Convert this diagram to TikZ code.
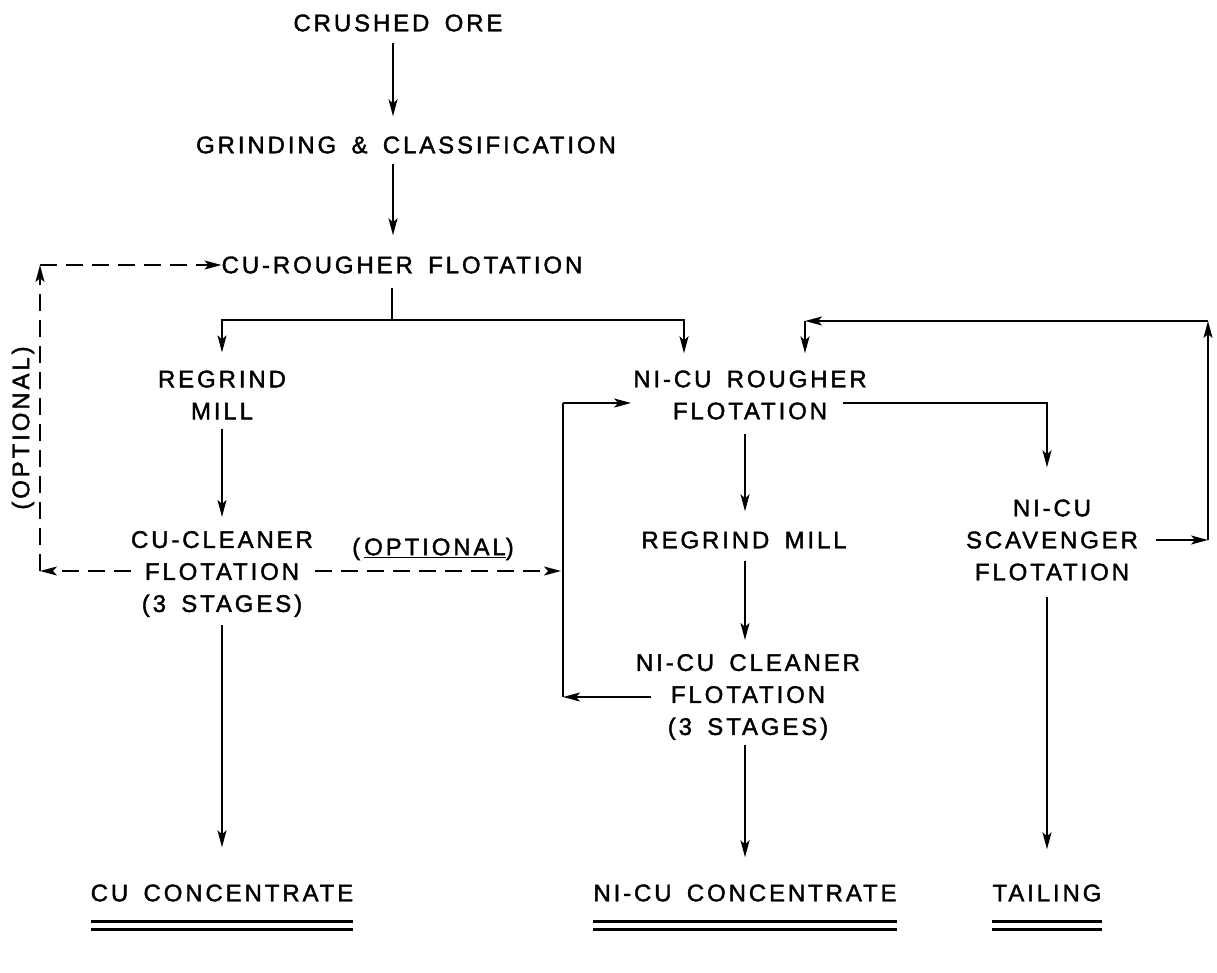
\documentclass[tikz,border=0pt]{standalone}
\usepackage{fontspec}
\setmainfont{Liberation Sans}[LetterSpace=12, WordSpace=1.6, FakeBold=1.6]
\usetikzlibrary{arrows.meta,calc}
\begin{document}
\begin{tikzpicture}[x=1pt,y=-1pt,
  lbl/.style={inner sep=0pt, align=center, font=\fontsize{24}{32}\selectfont},
  ln/.style={line width=1.7pt},
  arr/.style={ln, -{Stealth[length=17pt,width=9pt,inset=4pt]}},
  dsh/.style={dash pattern=on 17pt off 9pt},
  dbl/.style={line width=3pt}]
\useasboundingbox (0,0) rectangle (1217,972);

% labels
\node[lbl] (ore) at (398,23) {CRUSHED ORE};
\node[lbl] (grind) at (406,145) {GRINDING \& CLASSIFICATION};
\node[lbl] (curough) at (402,265) {CU-ROUGHER FLOTATION};
\node[lbl] (regrind) at (222,395) {REGRIND\\MILL};
\node[lbl] (cuclean) at (222,574) {CU-CLEANER\\FLOTATION\\(3 STAGES)};
\node[lbl] (nirough) at (750,395) {NI-CU ROUGHER\\FLOTATION};
\node[lbl] (niregrind) at (744,540) {REGRIND MILL};
\node[lbl] (niclean) at (748,697) {NI-CU CLEANER\\FLOTATION\\(3 STAGES)};
\node[lbl] (scav) at (1052,540) {NI-CU\\SCAVENGER\\FLOTATION};
\node[lbl] (cuconc) at (222,893) {CU CONCENTRATE};
\node[lbl] (niconc) at (745,893) {NI-CU CONCENTRATE};
\node[lbl] (tail) at (1047,893) {TAILING};
\node[lbl, rotate=90] (opt1) at (23,428) {(OPTIONAL)};
\node[lbl] (opt2) at (433,549) {(\,\underline{OPTIONAL})};

% helper coordinates
\coordinate (ax) at (393,0);
\coordinate (jn) at (392,320);
\coordinate (nx) at (684,0);
\coordinate (mx) at (745,0);
\coordinate (sx) at (1047,0);
\coordinate (cl) at (40,571);
\coordinate (tl) at (40,265);
\coordinate (ll) at (563,697);
\coordinate (lt) at (563,403);
\coordinate (ry) at (0,403);
\coordinate (rb) at (1208,540);
\coordinate (rt) at (1208,321);
\coordinate (rn) at (805,321);

% main flow
\draw[arr, shorten <=11pt, shorten >=20pt] (ore.south -| ax) -- (grind.north -| ax);
\draw[arr, shorten <=10pt, shorten >=21pt] (grind.south -| ax) -- (curough.north -| ax);
\draw[ln, shorten <=14pt] (curough.south -| jn) -- (jn);
\draw[arr, shorten >=18pt] (jn) -| (regrind.north);
\draw[arr, shorten >=17pt] (jn) -| (nirough.north -| nx);

% Cu branch
\draw[arr, shorten <=9pt, shorten >=14pt] (regrind.south) -- (cuclean.north);
\draw[arr, shorten <=8pt, shorten >=37pt] (cuclean.south) -- (cuconc.north);

% Ni-Cu branch
\draw[arr, shorten <=14pt, shorten >=20pt] (nirough.south -| mx) -- (niregrind.north -| mx);
\draw[arr, shorten <=12pt, shorten >=14pt] (niregrind.south -| mx) -- (niclean.north -| mx);
\draw[arr, shorten <=5pt, shorten >=27pt] (niclean.south -| mx) -- (niconc.north -| mx);
\draw[arr, shorten >=32pt] ($(nirough.east |- ry)+(-24,0)$) -| (scav.north -| sx);
\draw[arr, shorten <=16pt, shorten >=35pt] (scav.south -| sx) -- (tail.north -| sx);

% scavenger recycle
\draw[arr, shorten <=18pt] (scav.east) -- (rb);
\draw[arr] (rb) -- (rt);
\draw[arr] (rt) -- (rn);
\draw[arr, shorten >=17pt] (rn) -- (nirough.north -| rn);

% cleaner recycle
\draw[arr] ($(niclean.west |- ll)+(15,0)$) -- (ll);
\draw[ln] (ll) -- (lt);
\draw[arr, shorten >=2pt] (lt) -- (nirough.west |- lt);

% optional (dashed) routes
\draw[arr, dsh] (cuclean.west |- cl) -- (cl);
\draw[arr, dsh] (cl) -- (tl);
\draw[arr, dsh] (tl) -- (curough.west);
\draw[arr, dsh, shorten <=2pt, shorten >=2pt] (cuclean.east |- cl) -- (ll |- cl);

% double underlines of products
\foreach \n in {cuconc,niconc,tail} {
  \draw[dbl] ($(\n.south west)+(0,20)$) -- ($(\n.south east)+(0,20)$);
  \draw[dbl] ($(\n.south west)+(0,28)$) -- ($(\n.south east)+(0,28)$);
}
\end{tikzpicture}
\end{document}
